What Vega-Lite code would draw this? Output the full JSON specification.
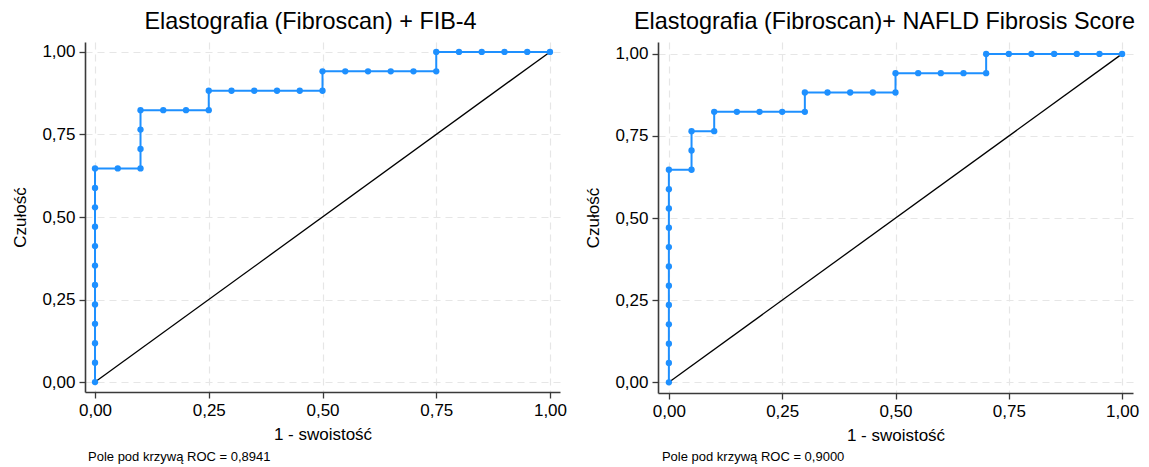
{
  "$schema": "https://vega.github.io/schema/vega-lite/v6.json",
  "background": "white",
  "padding": {"left": 11, "top": 9, "right": 5, "bottom": 2},
  "spacing": 17,
  "config": {
    "font": "Liberation Sans",
    "view": {"stroke": null},
    "title": {"fontSize": 23.4, "fontWeight": "normal", "color": "#000", "offset": 8},
    "axis": {
      "grid": true,
      "gridColor": "#e6e6e6",
      "gridDash": [7, 5],
      "gridWidth": 1.2,
      "domainColor": "#3a3a3a",
      "domainWidth": 1.6,
      "tickColor": "#3a3a3a",
      "tickSize": 6,
      "tickWidth": 1.3,
      "labelPadding": 4,
      "labelFontSize": 17,
      "labelColor": "#000",
      "titleFontSize": 17,
      "titleFontWeight": "normal",
      "titleColor": "#000"
    },
    "axisY": {"titlePadding": 12},
    "axisX": {"titlePadding": 8}
  },
  "datasets": {
    "roc1": [
      {"fpr": 0, "tpr": 0}, {"fpr": 0, "tpr": 0.0588}, {"fpr": 0, "tpr": 0.1176}, {"fpr": 0, "tpr": 0.1765},
      {"fpr": 0, "tpr": 0.2353}, {"fpr": 0, "tpr": 0.2941}, {"fpr": 0, "tpr": 0.3529}, {"fpr": 0, "tpr": 0.4118},
      {"fpr": 0, "tpr": 0.4706}, {"fpr": 0, "tpr": 0.5294}, {"fpr": 0, "tpr": 0.5882}, {"fpr": 0, "tpr": 0.6471},
      {"fpr": 0.05, "tpr": 0.6471}, {"fpr": 0.1, "tpr": 0.6471}, {"fpr": 0.1, "tpr": 0.7059}, {"fpr": 0.1, "tpr": 0.7647},
      {"fpr": 0.1, "tpr": 0.8235}, {"fpr": 0.15, "tpr": 0.8235}, {"fpr": 0.2, "tpr": 0.8235}, {"fpr": 0.25, "tpr": 0.8235},
      {"fpr": 0.25, "tpr": 0.8824}, {"fpr": 0.3, "tpr": 0.8824}, {"fpr": 0.35, "tpr": 0.8824}, {"fpr": 0.4, "tpr": 0.8824},
      {"fpr": 0.45, "tpr": 0.8824}, {"fpr": 0.5, "tpr": 0.8824}, {"fpr": 0.5, "tpr": 0.9412}, {"fpr": 0.55, "tpr": 0.9412},
      {"fpr": 0.6, "tpr": 0.9412}, {"fpr": 0.65, "tpr": 0.9412}, {"fpr": 0.7, "tpr": 0.9412}, {"fpr": 0.75, "tpr": 0.9412},
      {"fpr": 0.75, "tpr": 1}, {"fpr": 0.8, "tpr": 1}, {"fpr": 0.85, "tpr": 1}, {"fpr": 0.9, "tpr": 1},
      {"fpr": 0.95, "tpr": 1}, {"fpr": 1, "tpr": 1}
    ],
    "roc2": [
      {"fpr": 0, "tpr": 0}, {"fpr": 0, "tpr": 0.0588}, {"fpr": 0, "tpr": 0.1176}, {"fpr": 0, "tpr": 0.1765},
      {"fpr": 0, "tpr": 0.2353}, {"fpr": 0, "tpr": 0.2941}, {"fpr": 0, "tpr": 0.3529}, {"fpr": 0, "tpr": 0.4118},
      {"fpr": 0, "tpr": 0.4706}, {"fpr": 0, "tpr": 0.5294}, {"fpr": 0, "tpr": 0.5882}, {"fpr": 0, "tpr": 0.6471},
      {"fpr": 0.05, "tpr": 0.6471}, {"fpr": 0.05, "tpr": 0.7059}, {"fpr": 0.05, "tpr": 0.7647}, {"fpr": 0.1, "tpr": 0.7647},
      {"fpr": 0.1, "tpr": 0.8235}, {"fpr": 0.15, "tpr": 0.8235}, {"fpr": 0.2, "tpr": 0.8235}, {"fpr": 0.25, "tpr": 0.8235},
      {"fpr": 0.3, "tpr": 0.8235}, {"fpr": 0.3, "tpr": 0.8824}, {"fpr": 0.35, "tpr": 0.8824}, {"fpr": 0.4, "tpr": 0.8824},
      {"fpr": 0.45, "tpr": 0.8824}, {"fpr": 0.5, "tpr": 0.8824}, {"fpr": 0.5, "tpr": 0.9412}, {"fpr": 0.55, "tpr": 0.9412},
      {"fpr": 0.6, "tpr": 0.9412}, {"fpr": 0.65, "tpr": 0.9412}, {"fpr": 0.7, "tpr": 0.9412}, {"fpr": 0.7, "tpr": 1},
      {"fpr": 0.75, "tpr": 1}, {"fpr": 0.8, "tpr": 1}, {"fpr": 0.85, "tpr": 1}, {"fpr": 0.9, "tpr": 1},
      {"fpr": 0.95, "tpr": 1}, {"fpr": 1, "tpr": 1}
    ],
    "diag": [{"a": 0}, {"a": 1}],
    "note1": [{"label": "Pole pod krzywą ROC = 0,8941"}],
    "note2": [{"label": "Pole pod krzywą ROC = 0,9000"}]
  },
  "hconcat": [
    {
      "title": {"text": "Elastografia (Fibroscan) + FIB-4", "dx": -12},
      "width": 475,
      "height": 350,
      "layer": [
        {
          "data": {"name": "diag"},
          "mark": {"type": "line", "color": "#000", "strokeWidth": 1.3},
          "encoding": {
            "x": {"field": "a", "type": "quantitative", "scale": {"domain": [-0.022, 1.022], "nice": false, "zero": false}, "title": "1 - swoistość",
                  "axis": {"values": [0, 0.25, 0.5, 0.75, 1], "labelExpr": "replace(format(datum.value, '.2f'), '.', ',')"}},
            "y": {"field": "a", "type": "quantitative", "scale": {"domain": [-0.03, 1.03], "nice": false, "zero": false}, "title": "Czułość",
                  "axis": {"values": [0, 0.25, 0.5, 0.75, 1], "labelExpr": "replace(format(datum.value, '.2f'), '.', ',')"}}
          }
        },
        {
          "data": {"name": "roc1"},
          "mark": {"type": "line", "color": "#1e90ff", "strokeWidth": 2, "point": {"filled": true, "size": 40, "color": "#1e90ff", "opacity": 1}},
          "encoding": {
            "x": {"field": "fpr", "type": "quantitative"},
            "y": {"field": "tpr", "type": "quantitative"},
            "order": {"field": "tpr", "type": "quantitative"}
          }
        },
        {
          "data": {"name": "note1"},
          "mark": {"type": "text", "align": "left", "baseline": "middle", "fontSize": 13, "color": "#000"},
          "encoding": {
            "x": {"datum": -0.0154},
            "y": {"datum": -0.227},
            "text": {"field": "label"}
          }
        }
      ]
    },
    {
      "title": {"text": "Elastografia (Fibroscan)+ NAFLD Fibrosis Score", "dx": -11},
      "width": 475,
      "height": 351,
      "layer": [
        {
          "data": {"name": "diag"},
          "mark": {"type": "line", "color": "#000", "strokeWidth": 1.3},
          "encoding": {
            "x": {"field": "a", "type": "quantitative", "scale": {"domain": [-0.024, 1.024], "nice": false, "zero": false}, "title": "1 - swoistość",
                  "axis": {"values": [0, 0.25, 0.5, 0.75, 1], "labelExpr": "replace(format(datum.value, '.2f'), '.', ',')"}},
            "y": {"field": "a", "type": "quantitative", "scale": {"domain": [-0.0326, 1.0362], "nice": false, "zero": false}, "title": "Czułość",
                  "axis": {"values": [0, 0.25, 0.5, 0.75, 1], "labelExpr": "replace(format(datum.value, '.2f'), '.', ',')"}}
          }
        },
        {
          "data": {"name": "roc2"},
          "mark": {"type": "line", "color": "#1e90ff", "strokeWidth": 2, "point": {"filled": true, "size": 40, "color": "#1e90ff", "opacity": 1}},
          "encoding": {
            "x": {"field": "fpr", "type": "quantitative"},
            "y": {"field": "tpr", "type": "quantitative"},
            "order": {"field": "tpr", "type": "quantitative"}
          }
        },
        {
          "data": {"name": "note2"},
          "mark": {"type": "text", "align": "left", "baseline": "middle", "fontSize": 13, "color": "#000"},
          "encoding": {
            "x": {"datum": -0.0154},
            "y": {"datum": -0.227},
            "text": {"field": "label"}
          }
        }
      ]
    }
  ]
}
